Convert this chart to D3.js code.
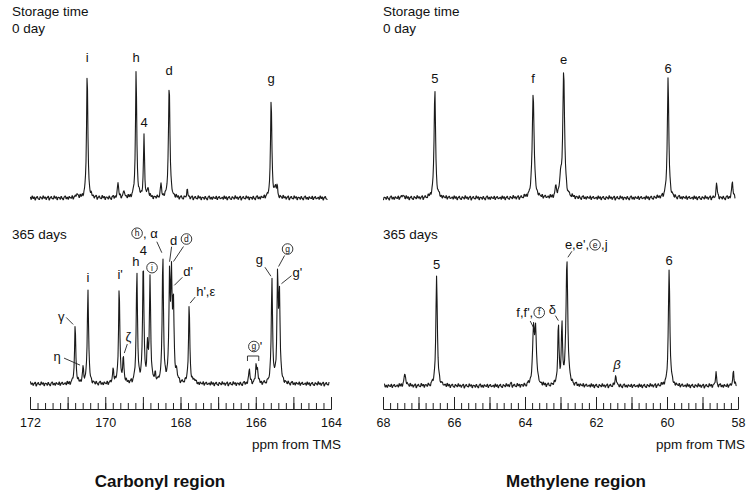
<!DOCTYPE html>
<html>
<head>
<meta charset="utf-8">
<script src="https://cdnjs.cloudflare.com/ajax/libs/d3/7.8.5/d3.min.js"></script>
<style>
body { margin: 0; background: #fff; }
text { font-family: "Liberation Sans", Arial, sans-serif; fill: #111; }
</style>
</head>
<body>
<div id="chart"></div>
<script>

// peaks: [ppm, intensity, line width (ppm)]
let carbonyl0 = [
    [170.75, 4, 0.05], [170.48, 129, 0.04], [169.66, 15, 0.04], [169.50, 7, 0.04],
    [169.18, 127, 0.04], [168.97, 61, 0.035], [168.86, 9, 0.04], [168.52, 12, 0.04],
    [168.30, 116, 0.045], [167.82, 7, 0.04], [165.59, 102, 0.04], [165.48, 12, 0.035],
    [165.43, 10, 0.035]
];
let carbonyl365 = [
    [170.80, 58, 0.04], [170.59, 14, 0.04], [170.46, 95, 0.04], [169.79, 14, 0.04],
    [169.63, 96, 0.04], [169.52, 24, 0.04], [169.16, 110, 0.04], [168.99, 122, 0.04],
    [168.88, 33, 0.035], [168.81, 104, 0.04], [168.67, 7, 0.04], [168.47, 127, 0.04],
    [168.29, 103, 0.04], [168.24, 95, 0.04], [168.19, 77, 0.04], [168.10, 10, 0.04],
    [167.77, 79, 0.04], [167.64, 5, 0.04], [166.17, 15, 0.04], [165.99, 19, 0.035],
    [165.95, 12, 0.035], [165.57, 103, 0.04], [165.42, 103, 0.04], [165.37, 84, 0.04]
];
let methylene0 = [
    [67.44, 3, 0.06], [66.54, 109, 0.05], [63.77, 107, 0.06], [63.13, 11, 0.04],
    [63.00, 17, 0.05], [62.91, 127, 0.06], [59.97, 119, 0.05], [58.60, 14, 0.04],
    [58.16, 17, 0.04]
];
let methylene365 = [
    [67.38, 12, 0.06], [66.49, 109, 0.05], [64.40, 2, 0.05], [63.76, 53, 0.06],
    [63.70, 50, 0.06], [63.06, 60, 0.04], [62.96, 58, 0.04], [62.82, 125, 0.06],
    [61.44, 11, 0.04], [59.94, 117, 0.05], [58.62, 13, 0.04], [58.13, 15, 0.04]
];

// hand-read baseline jitter (intensity units), cycled along the trace
let noise = [0.6, -1.3, 1.8, -0.5, 1.0, -1.9, 0.3, 1.4, -0.8, -1.6, 1.1, 0.2,
    -1.0, 2.0, -0.3, 0.8, -1.4, 0.5, 1.6, -2.0, 0.0, 1.3, -0.6, -1.1,
    1.9, -0.2, 1.0, -1.8, 0.6, 0.3, -1.3, 1.4, -0.5, -1.9, 0.8, 1.8,
    -1.0, 0.5, -1.4, 1.1, 0.0, -0.6, 1.6, -1.6, 0.3, 1.3, -0.8, -0.3];

let carbonylTicks = [172, 170, 168, 166, 164];
let methyleneTicks = [68, 66, 64, 62, 60, 58];

// peak labels: [text, ppm]   "(x)" = circled letter
let labelsC0 = [['i', 170.48], ['h', 169.18], ['4', 168.97], ['d', 168.30], ['g', 165.59]];
let labelsM0 = [['5', 66.54], ['f', 63.77], ['e', 62.91], ['6', 59.97]];
let labelsC365 = [['γ', 170.80], ['η', 170.59], ['i', 170.46], ["i'", 169.63], ['ζ', 169.52],
    ['h', 169.16], ['4', 168.99], ['(i)', 168.81], ['(h), α', 168.47], ['d', 168.29],
    ['(d)', 168.24], ["d'", 168.19], ["h',ε", 167.77], ['g', 165.57], ['(g)', 165.42], ["g'", 165.37]];
let labelsM365 = [['5', 66.49], ["f,f',(f)", 63.74], ['δ', 63.06], ["e,e',(e),j", 62.82],
    ['β', 61.44], ['6', 59.94]];
let bracketC365 = ["(g)'", 166.22, 165.92];

// label placement, same order as the label lists: [anchor, dx, dy, leader line]
let layoutC0 = [['middle', 0, -7], ['middle', 0, -8], ['middle', 0, -8], ['middle', 0, -7], ['middle', 0, -13]];
let layoutM0 = [['middle', 0, -6], ['middle', 0, -8], ['middle', 0, -6], ['middle', 0, -6]];
let layoutC365 = [
    ['middle', -14, -4, [-9, -8, -2, -1]],
    ['middle', -26, -6, [-19, -9, -3, -2]],
    ['middle', 0, -6],
    ['middle', 1, -7],
    ['middle', 5, -15, [4, -12, 1, -3]],
    ['middle', -1, -5],
    ['middle', 0, -3],
    ['middle', 2, -3],
    ['end', -5, -16, [-6, -12, -1, -1]],
    ['middle', 4, -18, [2, -16, 0, -1]],
    ['middle', 15, -19, [12, -16, 2, -1]],
    ['start', 10, -12, [9, -11, 1, -3]],
    ['start', 7, -8, [6, -7, 1, -1]],
    ['end', -9, -14, [-7, -11, -1, -2]],
    ['middle', 10, -14, [7, -12, 1, -1]],
    ['start', 13, -8, [12, -9, 2, -1]]
];
let layoutM365 = [
    ['middle', 0, -8],
    ['end', 11, -14, [-4, -10, 0, -2]],
    ['middle', -6, -8, [-3, -6, 0, -1]],
    ['start', -2, -10, [5, -8, 1, -2]],
    ['middle', 1, -6, null, true],
    ['middle', 0, -4]
];

//----------------------------------------
// SVG setup
let width = 753,
    height = 498;

let svg = d3.select('#chart').append('svg')
    .attr('width', width)
    .attr('height', height);

// Scales
let xC = d3.scaleLinear().domain([172, 164]).range([30, 331]);
let xM = d3.scaleLinear().domain([68, 58]).range([383, 738]);
let yTop = d3.scaleLinear().domain([0, 140]).range([198, 58]);
let yBotC = d3.scaleLinear().domain([0, 140]).range([384, 244]);
let yBotM = d3.scaleLinear().domain([0, 140]).range([386, 246]);

function signal(peaks, ppm) {
    // sum of lorentzian lines
    return d3.sum(peaks, function(p) {
        let u = (ppm - p[0]) / (p[2] / 2);
        return p[1] / (1 + u * u);
    });
}

function drawSpectrum(peaks, x, y, ppmFrom, ppmTo, off) {
    let step = Math.abs(x.invert(1) - x.invert(0)) * 0.5;
    let pts = [];
    let k = 0;
    for (let ppm = ppmFrom; ppm >= ppmTo; ppm -= step, k++) {
        let v = signal(peaks, ppm) + noise[(Math.floor(k / 2) + off) % noise.length];
        pts.push([ppm, v]);
    }
    svg.append('path')
        .datum(pts)
        .attr('d', d3.line().x(d => x(d[0])).y(d => y(d[1])))
        .style('fill', 'none')
        .style('stroke', '#1a1a1a')
        .style('stroke-width', 1.1)
        .style('stroke-linejoin', 'round');
}

function drawText(txt, px, py, anchor, italic) {
    let lg = svg.append('g');
    let cursor = 0;
    let bits = txt.split(/(\([a-z]\))/).filter(s => s.length);
    bits.forEach(function(b) {
        let m = b.match(/^\(([a-z])\)$/);
        if (m) {
            lg.append('circle')
                .attr('cx', cursor + 6).attr('cy', -4.5).attr('r', 5.3)
                .style('fill', '#fff').style('stroke', '#222').style('stroke-width', 0.9);
            lg.append('text')
                .attr('x', cursor + 6).attr('y', -1.6)
                .attr('text-anchor', 'middle')
                .style('font-size', '8.5px')
                .text(m[1]);
            cursor += 12;
        } else {
            let t = lg.append('text')
                .attr('x', cursor)
                .style('font-size', '13px')
                .style('font-style', italic ? 'italic' : 'normal')
                .text(b);
            cursor += t.node().getComputedTextLength();
        }
    });
    let shift = anchor === 'middle' ? -cursor / 2 : (anchor === 'end' ? -cursor : 0);
    lg.attr('transform', 'translate(' + (px + shift) + ',' + py + ')');
}

function drawLabels(labels, layout, peaks, x, y) {
    labels.forEach(function(l, i) {
        let lay = layout[i];
        let px = x(l[1]),
            py = y(signal(peaks, l[1]));
        drawText(l[0], px + lay[1], py + lay[2], lay[0], lay[4]);
        if (lay[3]) {
            svg.append('line')
                .attr('x1', px + lay[3][0]).attr('y1', py + lay[3][1])
                .attr('x2', px + lay[3][2]).attr('y2', py + lay[3][3])
                .style('stroke', '#222').style('stroke-width', 0.9);
        }
    });
}

function drawAxis(x, labels, yPos, nMinor, nMajor) {
    // minor ticks
    svg.append('g')
        .attr('transform', 'translate(0,' + yPos + ')')
        .call(d3.axisTop(x).ticks(nMinor).tickSize(6).tickSizeOuter(0).tickFormat(''));
    // major ticks
    svg.append('g')
        .attr('transform', 'translate(0,' + yPos + ')')
        .call(d3.axisTop(x).ticks(nMajor).tickSize(12).tickSizeOuter(0).tickFormat(''));
    // labels
    let lab = svg.append('g')
        .attr('transform', 'translate(0,' + yPos + ')')
        .call(d3.axisBottom(x).tickValues(labels).tickSize(0).tickPadding(9).tickFormat(d3.format('d')));
    lab.select('.domain').remove();
    lab.selectAll('text')
        .style('font-family', '"Liberation Sans", Arial, sans-serif')
        .style('font-size', '12.5px')
        .style('fill', '#111');
    svg.selectAll('.domain, .tick line').style('stroke', '#222');
}

//----------------------------------------
// Spectra
drawSpectrum(carbonyl0, xC, yTop, 172, 164.08, 0);
drawSpectrum(carbonyl365, xC, yBotC, 172, 164.04, 13);
drawSpectrum(methylene0, xM, yTop, 68, 58.08, 27);
drawSpectrum(methylene365, xM, yBotM, 67.97, 58.03, 35);

drawLabels(labelsC0, layoutC0, carbonyl0, xC, yTop);
drawLabels(labelsM0, layoutM0, methylene0, xM, yTop);
drawLabels(labelsC365, layoutC365, carbonyl365, xC, yBotC);
drawLabels(labelsM365, layoutM365, methylene365, xM, yBotM);

// bracket over the small (g)' pair
let bx0 = xC(bracketC365[1]), bx1 = xC(bracketC365[2]);
svg.append('path')
    .attr('d', d3.line()([[bx0, yBotC(23)], [bx0, yBotC(28)], [bx1, yBotC(28)], [bx1, yBotC(23)]]))
    .style('fill', 'none').style('stroke', '#222').style('stroke-width', 0.9);
drawText(bracketC365[0], (bx0 + bx1) / 2 + 2, yBotC(33), 'middle');

//----------------------------------------
// Axes
drawAxis(xC, carbonylTicks, 409, 40, 8);
drawAxis(xM, methyleneTicks, 409, 50, 10);

//----------------------------------------
// Texts
let notes = [['Storage time', 12, 16], ['0 day', 12, 33], ['365 days', 12, 239],
    ['Storage time', 383, 16], ['0 day', 383, 33], ['365 days', 383, 239]];
notes.forEach(function(n) {
    svg.append('text').attr('x', n[1]).attr('y', n[2]).style('font-size', '13.5px').text(n[0]);
});

svg.append('text').attr('x', 341).attr('y', 449).attr('text-anchor', 'end')
    .style('font-size', '13.5px').text('ppm from TMS');
svg.append('text').attr('x', 745).attr('y', 449).attr('text-anchor', 'end')
    .style('font-size', '13.5px').text('ppm from TMS');

svg.append('text').attr('x', 160).attr('y', 487).attr('text-anchor', 'middle')
    .style('font-size', '17px').style('font-weight', 'bold').text('Carbonyl region');
svg.append('text').attr('x', 576).attr('y', 487).attr('text-anchor', 'middle')
    .style('font-size', '17px').style('font-weight', 'bold').text('Methylene region');

</script>
</body>
</html>
